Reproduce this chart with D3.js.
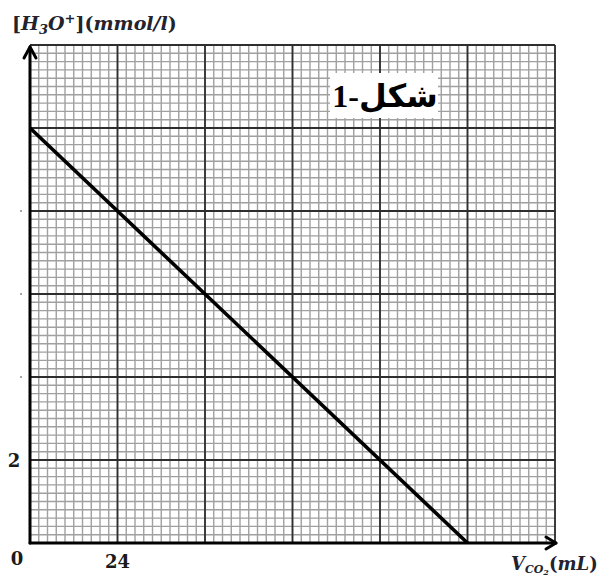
<!DOCTYPE html>
<html>
<head>
<meta charset="utf-8">
<script src="https://cdn.jsdelivr.net/npm/d3@7"></script>
<style>
  html, body { margin: 0; padding: 0; background: #fff; }
  svg { display: block; }
</style>
</head>
<body>
<svg id="chart" width="607" height="578"></svg>
<script>
// Volume of CO2 released (mL) and hydronium concentration (mmol/L)
const volumes = [0, 120];
const concentrations = [10, 0];

// Graph-paper extents and labelled graduations
const xDomain = [0, 144];
const yDomain = [0, 12];
const xMajorStep = 24;
const yMajorStep = 2;
const minorDivisions = 10;
const xTickLabels = [24];
const yTickLabels = [2];
const yMarkedTicks = [4, 6, 8];

const svg = d3.select("#chart");
const W = 607, H = 578;
svg.append("rect").attr("width", W).attr("height", H).attr("fill", "#fff");

const x = d3.scaleLinear().domain(xDomain).range([30, 555]);
const y = d3.scaleLinear().domain(yDomain).range([543, 45]);

const grid = svg.append("g");

// minor millimetre grid
const xMinor = d3.range(xDomain[0], xDomain[1] + 1e-9, xMajorStep / minorDivisions);
const yMinor = d3.range(yDomain[0], yDomain[1] + 1e-9, yMajorStep / minorDivisions);
grid.selectAll(".vmin").data(xMinor).join("line")
  .attr("x1", d => x(d)).attr("x2", d => x(d))
  .attr("y1", y(yDomain[0])).attr("y2", y(yDomain[1]))
  .attr("stroke", "#a0a0a0").attr("stroke-width", 1.4);
grid.selectAll(".hmin").data(yMinor).join("line")
  .attr("y1", d => y(d)).attr("y2", d => y(d))
  .attr("x1", x(xDomain[0])).attr("x2", x(xDomain[1]))
  .attr("stroke", "#a0a0a0").attr("stroke-width", 1.4);

// major grid
const xMajor = d3.range(xDomain[0], xDomain[1] + 1e-9, xMajorStep);
const yMajor = d3.range(yDomain[0], yDomain[1] + 1e-9, yMajorStep);
grid.selectAll(".vmaj").data(xMajor).join("line")
  .attr("x1", d => x(d)).attr("x2", d => x(d))
  .attr("y1", y(yDomain[0])).attr("y2", y(yDomain[1]))
  .attr("stroke", "#2e2e2e").attr("stroke-width", 1.8);
grid.selectAll(".hmaj").data(yMajor).join("line")
  .attr("y1", d => y(d)).attr("y2", d => y(d))
  .attr("x1", x(xDomain[0])).attr("x2", x(xDomain[1]))
  .attr("stroke", "#2e2e2e").attr("stroke-width", 1.8);

// axes with open arrowheads
const axes = svg.append("g").attr("stroke", "#000").attr("fill", "none")
  .attr("stroke-width", 3).attr("stroke-linecap", "round").attr("stroke-linejoin", "round");
axes.append("line").attr("x1", x(0)).attr("y1", y(0)).attr("x2", x(0)).attr("y2", y(yDomain[1]) + 2);
axes.append("line").attr("x1", x(0)).attr("y1", y(0)).attr("x2", x(xDomain[1]) + 1).attr("y2", y(0));
axes.append("path").attr("d", `M${x(0) - 6},${y(yDomain[1]) + 13} L${x(0)},${y(yDomain[1]) + 2} L${x(0) + 6},${y(yDomain[1]) + 13}`);
axes.append("path").attr("d", `M${x(xDomain[1]) - 9},${y(0) - 6} L${x(xDomain[1]) + 1},${y(0)} L${x(xDomain[1]) - 9},${y(0) + 6}`);

// small graduation marks on the vertical axis
svg.selectAll(".ymark").data(yMarkedTicks).join("line")
  .attr("x1", x(0) - 10).attr("x2", x(0) - 8)
  .attr("y1", d => y(d)).attr("y2", d => y(d))
  .attr("stroke", "#888").attr("stroke-width", 1.5);

// the straight-line relationship
const line = d3.line().x((d, i) => x(volumes[i])).y(d => y(d));
svg.append("path").datum(concentrations)
  .attr("d", line)
  .attr("fill", "none").attr("stroke", "#000").attr("stroke-width", 3.6);

// tick labels
const labelFont = "'DejaVu Serif', serif";
svg.selectAll(".xlab").data(xTickLabels).join("text")
  .attr("x", d => x(d)).attr("y", 568)
  .attr("text-anchor", "middle")
  .attr("font-family", labelFont).attr("font-weight", "bold").attr("font-size", 18)
  .attr("fill", "#1a1a1a").text(d => d);
svg.selectAll(".ylab").data(yTickLabels).join("text")
  .attr("x", 14).attr("y", d => y(d) + 7)
  .attr("text-anchor", "middle")
  .attr("font-family", labelFont).attr("font-weight", "bold").attr("font-size", 18)
  .attr("fill", "#1a1a1a").text(d => d);
svg.append("text").attr("x", 17).attr("y", 565)
  .attr("text-anchor", "middle")
  .attr("font-family", labelFont).attr("font-weight", "bold").attr("font-size", 18)
  .attr("fill", "#1a1a1a").text("0");

// axis titles
const yTitle = svg.append("text").attr("x", 12).attr("y", 30)
  .attr("font-family", labelFont).attr("font-weight", "bold").attr("font-style", "italic")
  .attr("font-size", 19).attr("fill", "#22232e");
yTitle.append("tspan").attr("font-style", "normal").text("[");
yTitle.append("tspan").text("H");
yTitle.append("tspan").attr("font-size", 13).attr("dy", 4).text("3");
yTitle.append("tspan").attr("dy", -4).text("O");
yTitle.append("tspan").attr("font-size", 13).attr("dy", -7).text("+");
yTitle.append("tspan").attr("dy", 7).attr("font-style", "normal").text("](");
yTitle.append("tspan").text("mmol/l");
yTitle.append("tspan").attr("font-style", "normal").text(")");

const xTitle = svg.append("text").attr("x", 511).attr("y", 570)
  .attr("font-family", labelFont).attr("font-weight", "bold").attr("font-style", "italic")
  .attr("font-size", 18).attr("fill", "#22232e");
xTitle.append("tspan").text("V");
xTitle.append("tspan").attr("font-size", 11).attr("dy", 3).text("CO");
xTitle.append("tspan").attr("font-size", 8).attr("dy", 2).text("2");
xTitle.append("tspan").attr("dy", -5).attr("font-style", "normal").text("(");
xTitle.append("tspan").text("mL");
xTitle.append("tspan").attr("font-style", "normal").text(")");

// figure caption box
svg.append("rect").attr("x", 330).attr("y", 73).attr("width", 108).attr("height", 45).attr("fill", "#fff");
svg.append("text").attr("x", 385).attr("y", 107)
  .attr("text-anchor", "middle").attr("direction", "rtl")
  .attr("font-family", "'Liberation Serif', 'DejaVu Sans', serif").attr("font-weight", "bold")
  .attr("font-size", 32).attr("fill", "#000").text("شكل-1");
</script>
</body>
</html>
